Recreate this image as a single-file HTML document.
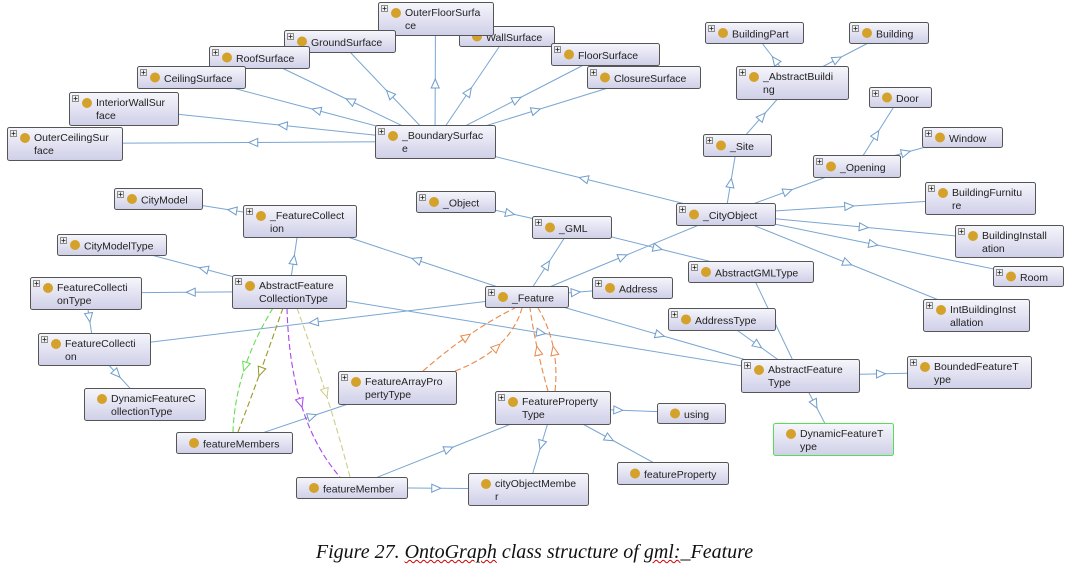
<!DOCTYPE html>
<html><head><meta charset="utf-8"><style>
body{margin:0;background:#fff;width:1069px;height:578px;overflow:hidden;font-family:"Liberation Sans",sans-serif}
.cap{position:absolute;top:541px;left:0;width:1069px;text-align:center;font-family:"Liberation Serif",serif;font-style:italic;font-size:20px;color:#111}
.cap u{text-decoration:underline wavy #c00;text-decoration-thickness:1px}
</style></head><body>
<svg id="s" width="1069" height="578" xmlns="http://www.w3.org/2000/svg" style="position:absolute;left:0;top:0">
<defs>
<linearGradient id="g" x1="0" y1="0" x2="0" y2="1"><stop offset="0" stop-color="#f6f6fc"/><stop offset="1" stop-color="#cfcfe8"/></linearGradient>
<marker id="a" markerWidth="14" markerHeight="12" refX="9" refY="5" orient="auto" markerUnits="userSpaceOnUse"><path d="M1,1 L10,5 L1,9 Z" fill="#fff" stroke="#6e9ccc" stroke-width="1"/></marker>
<marker id="o" markerWidth="14" markerHeight="12" refX="9" refY="5" orient="auto" markerUnits="userSpaceOnUse"><path d="M1,1 L10,5 L1,9 Z" fill="#fff" stroke="#e8884a" stroke-width="1"/></marker>
<marker id="gr" markerWidth="14" markerHeight="12" refX="9" refY="5" orient="auto" markerUnits="userSpaceOnUse"><path d="M1,1 L10,5 L1,9 Z" fill="#fff" stroke="#66dd55" stroke-width="1"/></marker>
<marker id="ol" markerWidth="14" markerHeight="12" refX="9" refY="5" orient="auto" markerUnits="userSpaceOnUse"><path d="M1,1 L10,5 L1,9 Z" fill="#fff" stroke="#99992a" stroke-width="1"/></marker>
<marker id="pu" markerWidth="14" markerHeight="12" refX="9" refY="5" orient="auto" markerUnits="userSpaceOnUse"><path d="M1,1 L10,5 L1,9 Z" fill="#fff" stroke="#aa44ee" stroke-width="1"/></marker>
<marker id="kh" markerWidth="14" markerHeight="12" refX="9" refY="5" orient="auto" markerUnits="userSpaceOnUse"><path d="M1,1 L10,5 L1,9 Z" fill="#fff" stroke="#d0cc88" stroke-width="1"/></marker>
</defs>
<g id="edges"></g>
<g id="nodes" font-size="10.5" fill="#222"></g>
</svg>
<div class="cap">Figure 27. <u>OntoGraph</u> class structure of <u>gml:</u>_Feature</div>
<script>
var N={
WS:[459,26,95,20,"WallSurface","",1],
OFS:[378,2,115,33,"OuterFloorSurfa","ce",1],
GS:[284,30,111,22,"GroundSurface","",1],
RS:[209,46,100,22,"RoofSurface","",1],
CS:[137,66,108,22,"CeilingSurface","",1],
FS:[551,43,108,22,"FloorSurface","",1],
CLS:[587,66,113,22,"ClosureSurface","",1],
IWS:[69,92,109,33,"InteriorWallSur","face",1],
OCS:[7,127,115,33,"OuterCeilingSur","face",1],
BS:[375,125,120,33,"_BoundarySurfac","e",1],
BP:[705,22,98,21,"BuildingPart","",1],
B:[849,22,79,21,"Building","",1],
AB:[736,66,112,33,"_AbstractBuildi","ng",1],
DR:[869,87,62,20,"Door","",1],
WN:[922,127,80,20,"Window","",1],
ST:[703,134,68,22,"_Site","",1],
OP:[813,155,87,22,"_Opening","",1],
CO:[676,203,99,22,"_CityObject","",1],
BF:[925,182,110,32,"BuildingFurnitu","re",1],
BI:[955,225,108,32,"BuildingInstall","ation",1],
RM:[993,266,70,20,"Room","",1],
IBI:[923,299,106,32,"IntBuildingInst","allation",1],
CM:[114,188,88,21,"CityModel","",1],
FC:[243,205,113,32,"_FeatureCollect","ion",1],
OB:[416,191,79,21,"_Object","",1],
GML:[532,216,79,22,"_GML","",1],
CMT:[57,234,109,21,"CityModelType","",1],
AGT:[688,261,125,21,"AbstractGMLType","",1],
FCT:[30,277,111,32,"FeatureCollecti","onType",1],
AFCT:[232,275,114,33,"AbstractFeature","CollectionType",1],
F:[485,286,83,21,"_Feature","",1],
AD:[592,277,80,21,"Address","",1],
ADT:[668,308,107,22,"AddressType","",1],
FCN:[38,333,112,32,"FeatureCollecti","on",1],
AFT:[741,359,118,33,"AbstractFeature","Type",1],
BFT:[907,356,124,32,"BoundedFeatureT","ype",1],
DFCT:[84,388,121,32,"DynamicFeatureC","ollectionType",0],
FAPT:[338,371,118,33,"FeatureArrayPro","pertyType",1],
FPT:[495,391,115,33,"FeatureProperty","Type",1],
US:[657,403,68,20,"using","",0],
FMS:[176,432,116,21,"featureMembers","",0],
FP:[617,462,111,22,"featureProperty","",0],
FM:[296,477,111,21,"featureMember","",0],
COM:[468,473,120,32,"cityObjectMembe","r",0],
DFT:[773,423,120,32,"DynamicFeatureT","ype",0]
};
function c(k){var n=N[k];return [n[0]+n[2]/2,n[1]+n[3]/2];}
var E=[["BS","OCS"],["BS","IWS"],["BS","CS"],["BS","RS"],["BS","GS"],["BS","OFS"],["BS","WS"],["BS","FS"],["BS","CLS"],
["CO","BS"],["CO","ST"],["ST","AB"],["AB","BP"],["AB","B"],["CO","OP"],["OP","DR"],["OP","WN"],["CO","BF"],["CO","BI"],["CO","RM"],["CO","IBI"],
["F","CO"],["F","FC"],["FC","CM"],["F","GML"],["OB","GML"],["GML","AGT"],["AGT","AFT"],["F","AD"],["F","AFT"],["AFCT","AFT"],["ADT","AFT"],["AFT","BFT"],["AFT","DFT"],
["F","FCN"],["AFCT","FC"],["AFCT","CMT"],["AFCT","FCT"],["FCT","FCN"],["FCN","DFCT"],["FMS","FAPT"],["FM","FPT"],["FM","COM"],["FPT","COM"],["FPT","US"],["FPT","FP"]];
var eg=document.getElementById("edges"),h="";
E.forEach(function(e){var a=c(e[0]),b=c(e[1]);var mx=(a[0]+b[0])/2,my=(a[1]+b[1])/2;
h+='<polyline points="'+a+' '+mx+','+my+' '+b+'" fill="none" stroke="#7aa6d2" stroke-width="1" marker-mid="url(#a)"/>';});
function cv(x1,y1,cx,cy,x2,y2,col,m){var mx=0.25*x1+0.5*cx+0.25*x2,my=0.25*y1+0.5*cy+0.25*y2;
var c1x=(x1+cx)/2,c1y=(y1+cy)/2,c2x=(cx+x2)/2,c2y=(cy+y2)/2;
h+='<path d="M'+x1+','+y1+' Q'+c1x+','+c1y+' '+mx+','+my+' Q'+c2x+','+c2y+' '+x2+','+y2+'" fill="none" stroke="'+col+'" stroke-width="1.1" stroke-dasharray="6,3" marker-mid="url(#'+m+')"/>';}
cv(273,308,235,370,233,432,"#66dd55","gr");
cv(283,308,258,380,238,432,"#99992a","ol");
cv(287,308,290,420,340,477,"#aa44ee","pu");
cv(297,308,330,400,350,477,"#d0cc88","kh");
cv(423,371,470,330,515,308,"#e8884a","o");
cv(455,371,510,350,522,308,"#e8884a","o");
cv(548,391,535,345,530,308,"#e8884a","o");
cv(555,391,560,345,538,308,"#e8884a","o");
eg.innerHTML=h;
var ng="";
for(var k in N){var n=N[k];var x=n[0],y=n[1],w=n[2],ht=n[3];
var st=k=="DFT"?"#55dd55":"#555";
ng+='<rect x="'+(x+0.5)+'" y="'+(y+0.5)+'" width="'+w+'" height="'+ht+'" rx="2" fill="url(#g)" stroke="'+st+'"/>';
if(n[6]) ng+='<rect x="'+(x+3.5)+'" y="'+(y+3.5)+'" width="6" height="6" fill="#eee" stroke="#666" stroke-width="0.7"/><path d="M'+(x+4.5)+','+(y+6.5)+'h4M'+(x+6.5)+','+(y+4.5)+'v4" stroke="#222" stroke-width="0.8"/>';
var ty=n[5]?y+13:y+ht/2+4;
ng+='<circle cx="'+(x+18)+'" cy="'+(n[5]?y+11:y+ht/2+0.5)+'" r="5" fill="#d4a12a"/>';
ng+='<text x="'+(x+27)+'" y="'+(ty+1)+'">'+n[4]+'</text>';
if(n[5]) ng+='<text x="'+(x+27)+'" y="'+(y+27)+'">'+n[5]+'</text>';}
document.getElementById("nodes").innerHTML=ng;
</script>
</body></html>
